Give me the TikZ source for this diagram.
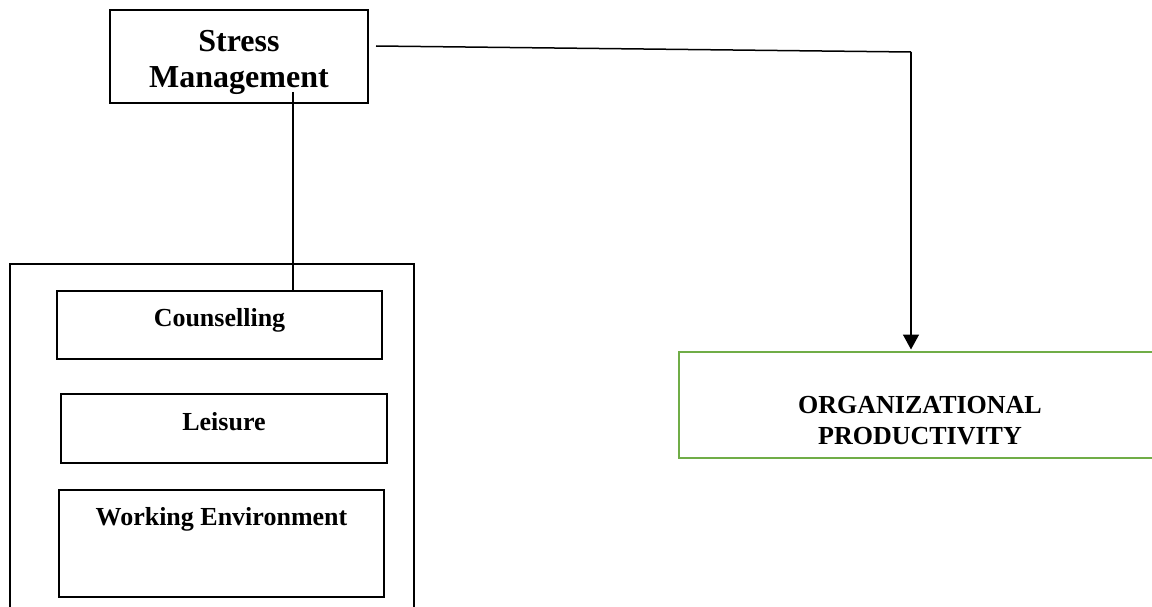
\documentclass[tikz,border=0pt]{standalone}
\usepackage{fontspec}
\setmainfont{Liberation Serif}
\definecolor{prodgreen}{RGB}{112, 173, 71}
\usetikzlibrary{arrows.meta, positioning}

\begin{document}
\begin{tikzpicture}[x=1pt, y=-1pt,
  fbox/.style={draw, line width=1.5pt, inner sep=0pt, outer sep=0pt, anchor=north west, font=\fontsize{26}{31}\selectfont\bfseries},
  topbox/.style={fbox, font=\fontsize{32}{36}\selectfont\bfseries},
  pbox/.style={fbox, draw=prodgreen, line width=2.2pt},
  link/.style={line width=1.5pt}
]
  \useasboundingbox (0,0) rectangle (1152,607);

  % independent variable
  \node[topbox, minimum width=258, text height=42, text depth=51] (stress) at (110,10) {\begin{tabular}[t]{@{}c@{}}Stress\\Management\end{tabular}};

  % frame round the three factors
  \draw[link] (10,620) -- (10,264) -- (414,264) -- (414,620);
  \node[fbox, minimum width=325, text height=35, text depth=33] (coun) at (57,291) {Counselling};
  \node[fbox, minimum width=326, text height=36, text depth=33] (leis) at (61,394) {Leisure};
  \node[fbox, minimum width=325, text height=35, text depth=72] (work) at (59,490) {Working Environment};

  % dependent variable
  \node[pbox, minimum width=482, text height=61, text depth=45] (prod) at (679,352) {\begin{tabular}[t]{@{}c@{}}ORGANIZATIONAL\\PRODUCTIVITY\end{tabular}};

  % connectors
  \coordinate (drop) at (293,92);
  \coordinate (start) at (376,46);
  \coordinate (turn) at (911,52);
  \draw[link] (drop) -- (drop |- coun.north);
  \draw[link] (start) -- (turn);
  \draw[link, -{Triangle[width=16pt, length=15pt]}, shorten >=2.5pt] (turn) -- (turn |- prod.north);
\end{tikzpicture}
\end{document}
